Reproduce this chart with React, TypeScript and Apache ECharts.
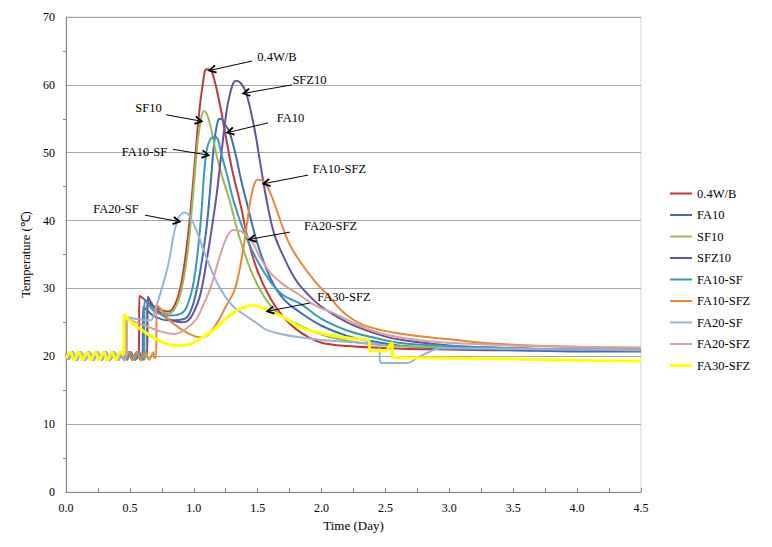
import React, { useEffect, useRef } from "react";
import * as echarts from "echarts";

const FONT = "Liberation Serif";

const seriesNames = ["0.4W/B", "FA10", "SF10", "SFZ10", "FA10-SF", "FA10-SFZ", "FA20-SF", "FA20-SFZ", "FA30-SFZ"];
const seriesColors = ["#BE3A3A", "#3F6EB0", "#98B954", "#66519A", "#3A97BC", "#E3893D", "#9AB2D9", "#D8A0A0", "#FFFF00"];
const seriesWidths = [2, 2, 2, 2, 2, 2, 2, 2, 3];

// baseline oscillation before the jump (two phases)
const baseA = [
  [0, 20.3], [0.02, 19.6], [0.05, 20.6], [0.085, 19.5], [0.115, 20.6], [0.15, 19.5], [0.18, 20.6],
  [0.215, 19.5], [0.245, 20.6], [0.28, 19.5], [0.31, 20.6], [0.345, 19.5], [0.375, 20.6], [0.41, 19.5],
  [0.44, 20.6], [0.475, 19.5], [0.505, 20.6], [0.54, 19.5], [0.57, 20.6], [0.605, 19.5], [0.635, 20.6],
  [0.67, 19.6], [0.7, 20.5],
];
const baseB = [
  [0, 19.7], [0.035, 20.6], [0.065, 19.5], [0.1, 20.6], [0.13, 19.5], [0.165, 20.6], [0.195, 19.5],
  [0.23, 20.6], [0.26, 19.5], [0.295, 20.6], [0.325, 19.5], [0.36, 20.6], [0.39, 19.5], [0.425, 20.6],
  [0.455, 19.5], [0.49, 20.6], [0.52, 19.5], [0.555, 20.6], [0.585, 19.5], [0.62, 20.6], [0.65, 19.5],
  [0.685, 20.6], [0.715, 19.6],
];

const wb04 = [
  [0.57, 20.3], [0.575, 28.9], [0.6, 28.6], [0.65, 27.8], [0.7, 27.2], [0.75, 26.8], [0.8, 26.6], [0.85, 27.5],
  [0.9, 30.5], [0.95, 37], [0.98, 42.5], [1.01, 49], [1.04, 55.5], [1.07, 60], [1.1, 62.3], [1.13, 62.2],
  [1.16, 60.8], [1.2, 57.5], [1.25, 52.5], [1.3, 47.5], [1.37, 42], [1.42, 37.5], [1.5, 32.5], [1.6, 28.5],
  [1.7, 25.8], [1.8, 24], [1.9, 22.8], [2.0, 22], [2.2, 21.5], [2.5, 21.2], [3.0, 21.0], [3.5, 20.9],
  [4.0, 20.9], [4.5, 20.8],
];
const fa10 = [
  [0.6, 20.3], [0.605, 27.3], [0.65, 26.5], [0.7, 25.8], [0.8, 25.3], [0.9, 25.4], [0.95, 25.8], [1.0, 28],
  [1.05, 32.5], [1.1, 39], [1.13, 45], [1.16, 51.5], [1.19, 54.8], [1.21, 55], [1.24, 54.3], [1.28, 53],
  [1.33, 49.5], [1.37, 46], [1.41, 43], [1.5, 36.5], [1.6, 31.5], [1.7, 28.5], [1.83, 26.5], [2.0, 24.5],
  [2.2, 23], [2.4, 22.2], [2.6, 21.6], [3.0, 21.1], [3.5, 20.9], [4.0, 20.7], [4.5, 20.7],
];
const sf10 = [
  [0.63, 20.3], [0.635, 27.8], [0.7, 26.8], [0.8, 26.3], [0.85, 27], [0.9, 29.5], [0.95, 35], [1.0, 45],
  [1.03, 51.5], [1.06, 55.3], [1.08, 56.1], [1.1, 55.8], [1.13, 54], [1.18, 49.5], [1.23, 46], [1.28, 43],
  [1.35, 38], [1.45, 32.5], [1.55, 28.8], [1.65, 26.5], [1.8, 24.8], [2.0, 23.2], [2.2, 22.3], [2.5, 21.6],
  [3.0, 21.3], [3.5, 21.1], [4.0, 21], [4.5, 20.9],
];
const sfz10 = [
  [0.635, 20.3], [0.64, 28.8], [0.7, 27], [0.8, 25.5], [0.9, 25], [0.95, 25.2], [1.0, 26.5], [1.05, 29],
  [1.1, 34], [1.15, 40], [1.18, 44], [1.22, 50.5], [1.26, 56.5], [1.3, 59.8], [1.33, 60.6], [1.37, 60.2],
  [1.41, 58.8], [1.47, 54], [1.52, 48.5], [1.57, 43], [1.63, 38], [1.7, 34.8], [1.8, 31.2], [1.9, 29],
  [2.0, 27.3], [2.2, 25], [2.4, 23.5], [2.6, 22.5], [3.0, 21.6], [3.5, 21.2], [4.0, 21], [4.5, 20.9],
];
const fa10sf = [
  [0.61, 20.3], [0.615, 28.3], [0.65, 27.5], [0.7, 26.5], [0.8, 26], [0.9, 26.3], [0.95, 27.5], [1.0, 31],
  [1.05, 39], [1.095, 49.7], [1.13, 52], [1.17, 52.3], [1.22, 49.5], [1.27, 46], [1.31, 43], [1.4, 38],
  [1.5, 34], [1.6, 31], [1.7, 29], [1.83, 27.8], [2.0, 25.5], [2.2, 23.8], [2.4, 22.8], [2.6, 22],
  [3.0, 21.5], [3.5, 21.2], [4.0, 21], [4.5, 21],
];
const fa10sfz = [
  [0.69, 19.8], [0.705, 19.8], [0.71, 27.5], [0.75, 26.8], [0.8, 25.5], [0.9, 24], [1.0, 23], [1.05, 22.8],
  [1.1, 23], [1.15, 24], [1.2, 25.5], [1.25, 27.3], [1.32, 29.8], [1.38, 35], [1.42, 40], [1.46, 44.5],
  [1.5, 46], [1.55, 45.7], [1.6, 44], [1.65, 41.5], [1.7, 38.8], [1.75, 36.5], [1.83, 34], [1.95, 31],
  [2.05, 29], [2.17, 26.5], [2.33, 24.6], [2.6, 23.4], [3.0, 22.5], [3.4, 21.8], [4.0, 21.4], [4.5, 21.2],
];
const fa20sf = [
  [0.465, 20.3], [0.47, 25.8], [0.55, 25.5], [0.66, 25.3], [0.7, 27], [0.75, 30], [0.8, 33.5], [0.87, 39.9],
  [0.93, 41.2], [0.97, 40.6], [1.02, 38.6], [1.1, 34.5], [1.2, 30.2], [1.3, 27.5], [1.39, 26.2], [1.5, 24.8],
  [1.57, 23.9], [1.7, 23.2], [1.83, 22.8], [2.0, 22.4], [2.3, 22.0], [2.44, 21.8], [2.47, 19.0], [2.67, 19.0],
  [2.75, 19.8], [2.85, 20.7], [2.93, 21.2], [3.5, 21.1], [4.0, 21], [4.5, 20.9],
];
const fa20sfz = [
  [0.475, 20.3], [0.48, 25.5], [0.55, 25], [0.65, 24.3], [0.75, 23.6], [0.85, 23.3], [0.95, 24.2], [1.02, 25.5],
  [1.08, 27.8], [1.13, 30], [1.2, 34.5], [1.26, 37.6], [1.31, 38.6], [1.36, 38.5], [1.41, 37.8], [1.46, 36.8],
  [1.52, 34.5], [1.6, 32.3], [1.7, 30.6], [1.83, 29], [1.95, 27.5], [2.09, 26.4], [2.3, 24.5], [2.5, 23.2],
  [2.8, 22.3], [3.2, 21.8], [3.6, 21.5], [4.0, 21.4], [4.5, 21.3],
];
const fa30sfz = [
  [0.45, 20.2], [0.455, 26.1], [0.5, 25.2], [0.6, 23.8], [0.7, 22.6], [0.81, 21.7], [0.9, 21.6], [0.97, 21.8],
  [1.05, 22.6], [1.15, 23.8], [1.25, 25.5], [1.35, 26.9], [1.46, 27.5], [1.52, 27.3], [1.6, 26.6], [1.7, 25.8],
  [1.83, 24.3], [1.95, 23.6], [2.1, 23.0], [2.25, 22.6], [2.37, 22.3], [2.38, 20.8], [2.5, 20.8], [2.54, 21.8],
  [2.55, 22.0], [2.56, 19.8], [2.7, 19.8], [3.0, 19.7], [3.5, 19.6], [4.0, 19.4], [4.5, 19.3],
];

const curves = [wb04, fa10, sf10, sfz10, fa10sf, fa10sfz, fa20sf, fa20sfz, fa30sfz];
const baselines = [baseA, baseB, baseA, baseB, baseA, baseB, baseA, baseB, baseB];

// annotation: label centre, arrow start, arrow tip (data coordinates)
const annotations: Record<string, { text: number[]; from: number[]; to: number[] }> = {
  "0.4W/B": { text: [1.651, 64.1], from: [1.455, 63.5], to: [1.142, 62.2] },
  "SFZ10": { text: [1.905, 60.7], from: [1.768, 60.0], to: [1.408, 58.8] },
  "FA10": { text: [1.757, 55.1], from: [1.581, 54.4], to: [1.283, 53.05] },
  "FA10-SFZ": { text: [2.14, 47.6], from: [1.894, 46.7], to: [1.565, 45.5] },
  "FA20-SFZ": { text: [2.07, 39.2], from: [1.753, 38.3], to: [1.455, 37.3] },
  "FA30-SFZ": { text: [2.175, 28.7], from: [1.909, 27.85], to: [1.596, 26.7] },
  "SF10": { text: [0.646, 56.6], from: [0.782, 55.6], to: [1.041, 54.7] },
  "FA10-SF": { text: [0.614, 50.1], from: [0.837, 50.5], to: [1.095, 49.7] },
  "FA20-SF": { text: [0.391, 41.7], from: [0.618, 40.8], to: [0.869, 39.9] },
};

const ARROW_HEAD = "path://M5,0L10,7.5L8.3,8.6L5,3.6L1.7,8.6L0,7.5Z";

export default function App() {
  const ref = useRef<HTMLDivElement>(null);
  useEffect(() => {
    if (!ref.current) return;
    const chart = echarts.init(ref.current, null, { renderer: "svg" });
    const series = seriesNames.map((name, i) => {
      const jump = curves[i][0][0];
      const data = baselines[i].filter((p) => p[0] < jump - 0.004).concat(curves[i]);
      const a = annotations[name];
      return {
        name,
        type: "line",
        data,
        symbol: "none",
        showSymbol: false,
        smooth: 0.4,
        color: seriesColors[i],
        lineStyle: { color: seriesColors[i], width: seriesWidths[i] },
        emphasis: { disabled: true },
        markLine: {
          silent: true,
          animation: false,
          symbol: ["none", ARROW_HEAD],
          symbolSize: 9,
          itemStyle: { color: "#000" },
          lineStyle: { color: "#000", width: 1, type: "solid" },
          label: { show: false },
          emphasis: { disabled: true },
          data: [[{ coord: a.from }, { coord: a.to }]],
        },
        markPoint: {
          silent: true,
          animation: false,
          symbol: "rect",
          symbolSize: 1,
          itemStyle: { color: "rgba(0,0,0,0)" },
          label: {
            show: true,
            position: "inside",
            formatter: name,
            fontFamily: FONT,
            fontWeight: "normal",
            fontSize: 12.5,
            color: "#000",
          },
          emphasis: { disabled: true },
          data: [{ coord: a.text }],
        },
      };
    });
    chart.setOption({
      animation: false,
      backgroundColor: "#fff",
      grid: {
        left: 66, right: 131, top: 17, bottom: 55,
        show: true, borderColor: "#d4d4d4", borderWidth: 1, backgroundColor: "transparent",
      },
      xAxis: {
        type: "value", min: 0, max: 4.5, interval: 0.5,
        name: "Time (Day)", nameLocation: "middle", nameGap: 27,
        nameTextStyle: { fontFamily: FONT, fontSize: 13, color: "#000" },
        axisLine: { show: true, onZero: false, lineStyle: { color: "#868686", width: 1 } },
        axisTick: { show: true, inside: true, length: 4, lineStyle: { color: "#868686" } },
        minorTick: { show: true, splitNumber: 2, length: 4, lineStyle: { color: "#868686" } },
        splitLine: { show: false },
        axisLabel: {
          formatter: (v: number) => v.toFixed(1),
          fontFamily: FONT, fontSize: 12, color: "#000", margin: 10,
        },
      },
      yAxis: {
        type: "value", min: 0, max: 70, interval: 10,
        name: "Temperature (℃)", nameLocation: "middle", nameGap: 25,
        nameTextStyle: { fontFamily: FONT, fontSize: 12.5, color: "#000" },
        axisLine: { show: true, lineStyle: { color: "#868686", width: 1 } },
        axisTick: { show: false },
        minorTick: { show: true, splitNumber: 2, length: 3, lineStyle: { color: "#868686" } },
        splitLine: { show: true, lineStyle: { color: "#a6a6a6", width: 1 } },
        axisLabel: { fontFamily: FONT, fontSize: 12, color: "#000", margin: 11 },
      },
      legend: {
        orient: "vertical",
        left: 665, top: 182,
        itemWidth: 22, itemHeight: 14, itemGap: 8.5,
        textStyle: { fontFamily: FONT, fontSize: 12.5, color: "#000" },
        data: seriesNames.map((n, i) => ({
          name: n,
          icon: seriesWidths[i] > 2 ? "path://M0,0H22V3H0Z" : "path://M0,0H22V2H0Z",
        })),
      },
      series,
    });
    return () => chart.dispose();
  }, []);
  return (
    <div
      ref={ref}
      style={{ position: "absolute", left: 0, top: 0, width: 772, height: 547 }}
    />
  );
}
